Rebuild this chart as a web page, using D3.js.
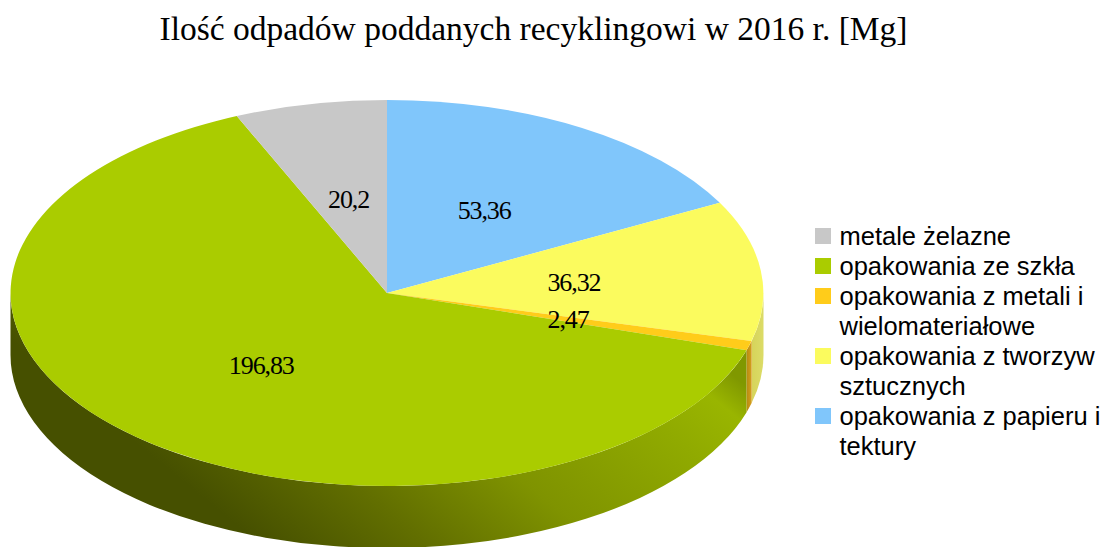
<!DOCTYPE html>
<html>
<head>
<meta charset="utf-8">
<script src="https://cdn.jsdelivr.net/npm/d3@7"></script>
<style>
  html, body { margin: 0; padding: 0; background: #fff; overflow: hidden; }
</style>
</head>
<body>
<div id="container"></div>
<script>
/* CONSTANTS AND GLOBALS */
const width = 1105;
const height = 547;
const cx = 387, cy = 293;      // centre of the pie top
const rx = 376.5, ry = 193;    // tilted pie = ellipse
const depth = 62;

/* DATA */
const categories = ["metale żelazne", "opakowania ze szkła", "opakowania z metali i wielomateriałowe", "opakowania z tworzyw sztucznych", "opakowania z papieru i tektury"];
const values = [20.2, 196.83, 2.47, 36.32, 53.36];
const valueLabels = ["20,2", "196,83", "2,47", "36,32", "53,36"];
const legendLines = [["metale żelazne"], ["opakowania ze szkła"], ["opakowania z metali i", "wielomateriałowe"], ["opakowania z tworzyw", "sztucznych"], ["opakowania z papieru i", "tektury"]];
const colors = ["#c8c8c8", "#aacc00", "#ffcc1a", "#fbfb5e", "#80c6fb"];

/* SCALES */
const colorScale = d3.scaleOrdinal().domain(categories).range(colors);

// pie runs clockwise from the top, last category first
const slices = d3.pie().sort(null).value(i => values[i])(d3.range(values.length).reverse());

const svg = d3.select("#container").append("svg")
  .attr("width", width)
  .attr("height", height)
  .style("display", "block");

/* GRADIENTS for the side wall */
const defs = svg.append("defs");
function gradient(id, x1, y1, x2, y2, stops) {
  const g = defs.append("linearGradient").attr("id", id)
    .attr("gradientUnits", "userSpaceOnUse")
    .attr("x1", x1).attr("y1", y1).attr("x2", x2).attr("y2", y2);
  stops.forEach(s => g.append("stop").attr("offset", s[0]).attr("stop-color", s[1]));
}
// bands on the green wall run diagonally, lighter towards upper right
gradient("wall1", 255, 540, 527, 207, [[0, "#465000"], [0.25, "#626f00"], [0.5, "#7f9300"], [0.8, "#90aa00"], [0.93, "#99b500"], [1, "#809800"]]);
gradient("wall2", 747, 0, 752, 0, [[0, "#b98c10"], [1, "#d8a020"]]);
gradient("wall3", 752, 0, 764, 0, [[0, "#d6d45a"], [1, "#dcdc68"]]);
const wallFill = { 1: "url(#wall1)", 2: "url(#wall2)", 3: "url(#wall3)" };

/* SIDE WALL */
const px = a => cx + rx * Math.sin(a);
const py = a => cy - ry * Math.cos(a);

svg.selectAll("path.wall")
  .data(slices.filter(d => d.endAngle > Math.PI / 2 && d.startAngle < 3 * Math.PI / 2))
  .join("path")
  .attr("class", "wall")
  .attr("fill", d => wallFill[d.data])
  .attr("d", d => {
    const a0 = Math.max(d.startAngle, Math.PI / 2);
    const a1 = Math.min(d.endAngle, 3 * Math.PI / 2);
    return `M${px(a0)},${py(a0)}A${rx},${ry} 0 0 1 ${px(a1)},${py(a1)}` +
      `L${px(a1)},${py(a1) + depth}A${rx},${ry} 0 0 0 ${px(a0)},${py(a0) + depth}Z`;
  });

/* TOP FACE */
const arc = d3.arc().innerRadius(0).outerRadius(1);
const top_ = svg.append("g").attr("transform", `translate(${cx},${cy}) scale(${rx},${ry})`);
top_.selectAll("path")
  .data(slices)
  .join("path")
  .attr("d", arc)
  .attr("fill", d => colorScale(categories[d.data]));

/* VALUE LABELS */
svg.selectAll("text.value")
  .data(slices)
  .join("text")
  .attr("class", "value")
  .attr("x", d => cx + rx * arc.centroid(d)[0])
  .attr("y", d => cy + ry * arc.centroid(d)[1] + 9)
  .attr("text-anchor", "middle")
  .style("font-family", "'Liberation Serif'")
  .style("font-size", "26px")
  .style("letter-spacing", "-1.1px")
  .attr("fill", "#000")
  .text(d => valueLabels[d.data]);

/* TITLE */
svg.append("text")
  .attr("x", 533.5)
  .attr("y", 40)
  .attr("text-anchor", "middle")
  .style("font-family", "'Liberation Serif'")
  .style("font-size", "33.5px")
  .attr("fill", "#000")
  .text("Ilość odpadów poddanych recyklingowi w 2016 r. [Mg]");

/* LEGEND */
const legend = svg.append("g").attr("class", "legend");
let row = 0;
legendLines.forEach((lines, i) => {
  const y = 236 + row * 30;
  legend.append("rect")
    .attr("x", 815).attr("y", y - 8)
    .attr("width", 16).attr("height", 16)
    .attr("fill", colorScale(categories[i]));
  lines.forEach((line, j) => {
    legend.append("text")
      .attr("x", 839.5)
      .attr("y", y + 9 + j * 30)
      .style("font-family", "'Liberation Sans'")
      .style("font-size", "25.5px")
      .attr("fill", "#000")
      .text(line);
  });
  row += lines.length;
});
</script>
</body>
</html>
